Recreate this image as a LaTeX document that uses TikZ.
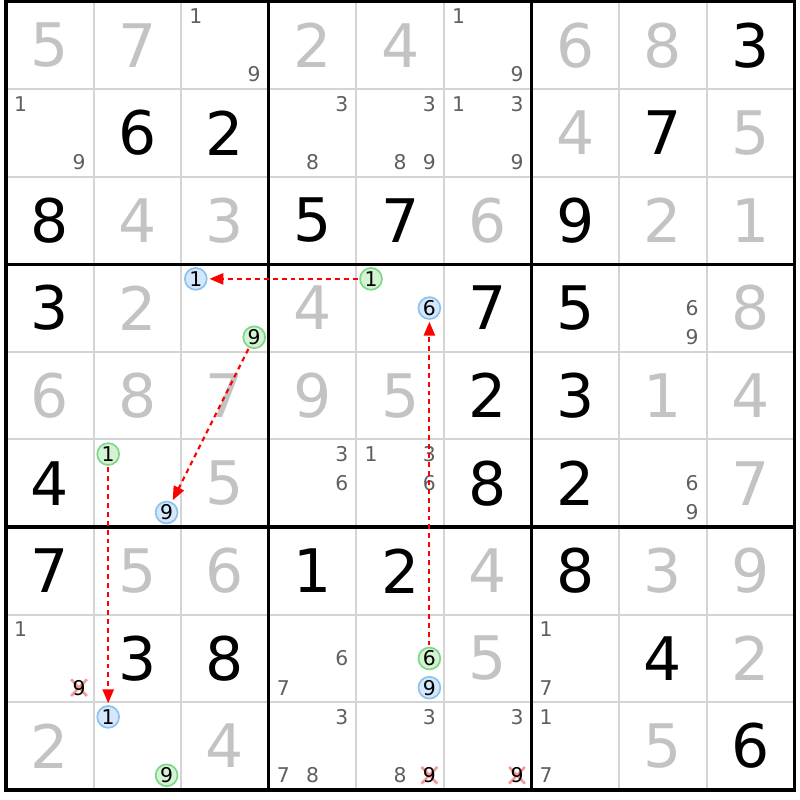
\documentclass[tikz,border=0pt]{standalone}
\usepackage{fontspec}
\setmainfont{DejaVu Sans}
\usetikzlibrary{arrows.meta}
\definecolor{givengray}{HTML}{C3C3C3}
\definecolor{candgray}{HTML}{5F5F5F}
\definecolor{gridgray}{HTML}{D4D4D4}
\definecolor{ongreen}{HTML}{D3F3D3}
\definecolor{ongreenline}{HTML}{7DD68A}
\definecolor{offblue}{HTML}{D5E7FB}
\definecolor{offblueline}{HTML}{8BC2F0}
\definecolor{elimred}{HTML}{F29A9A}
\tikzset{
	givendigit/.style={text=givengray, font=\fontsize{19.5}{19.5}\selectfont, inner sep=0pt},
	solveddigit/.style={givendigit, text=black},
	canddigit/.style={text=candgray, font=\fontsize{6.6}{6.6}\selectfont, inner sep=0pt},
	elimdigit/.style={canddigit, text=black},
	oncand/.style={canddigit, text=black, circle, draw=ongreenline, fill=ongreen, line width=0.55pt, minimum size=0.25cm},
	offcand/.style={oncand, draw=offblueline, fill=offblue},
	elimcross/.style={elimred, line width=0.85pt},
	link/.style={red, line width=0.7pt, dash pattern=on 1.6pt off 1.3pt, -{Triangle[length=4.5pt,width=3.6pt]}, shorten >=0.6pt, shorten <=0.4pt},
}
\def\givencell(#1,#2)#3{\node[givendigit] (r#2c#1) at (#1-0.5, 9.5-#2) {#3};}
\def\solvedcell(#1,#2)#3{\node[solveddigit] (r#2c#1) at (#1-0.5, 9.5-#2) {#3};}
\def\candcell[#1](#2,#3)#4{\node[#1] (r#3c#2n#4) at ({#2-1+(2*mod(#4-1,3)+1)/6}, {10-#3-(2*floor((#4-1)/3)+1)/6}) {#4};}
\def\elimcell(#1,#2)#3{\draw[elimcross] ({#1-1+(2*mod(#3-1,3)+1)/6}, {10-#2-(2*floor((#3-1)/3)+1)/6}) ++(-0.09,-0.095) -- ++(0.18,0.19) ++(-0.18,0) -- ++(0.18,-0.19);
	\candcell[elimdigit](#1,#2){#3}}

\begin{document}
\begin{tikzpicture}
		%%%%% START %%%%%
		\useasboundingbox (-0.0685, -0.115) rectangle (9.064, 9.017);
		
		\draw[gridgray, line width=0.65pt] (1,0) -- (1,9) (2,0) -- (2,9) (4,0) -- (4,9) (5,0) -- (5,9) (7,0) -- (7,9) (8,0) -- (8,9);
		\draw[gridgray, line width=0.65pt] (0,1) -- (9,1) (0,2) -- (9,2) (0,4) -- (9,4) (0,5) -- (9,5) (0,7) -- (9,7) (0,8) -- (9,8);
		\draw[line width=1.1pt] (3,0) -- (3,9) (6,0) -- (6,9) (0,3) -- (9,3) (0,6) -- (9,6);
		\draw[line width=1.1pt] (0,0) rectangle (9,9);
		
		% row 1
		\givencell(1,1){5} \givencell(2,1){7}
		\candcell[canddigit](3,1){1} \candcell[canddigit](3,1){9}
		\givencell(4,1){2} \givencell(5,1){4}
		\candcell[canddigit](6,1){1} \candcell[canddigit](6,1){9}
		\givencell(7,1){6} \givencell(8,1){8} \solvedcell(9,1){3}
		
		% row 2
		\candcell[canddigit](1,2){1} \candcell[canddigit](1,2){9}
		\solvedcell(2,2){6} \solvedcell(3,2){2}
		\candcell[canddigit](4,2){3} \candcell[canddigit](4,2){8}
		\candcell[canddigit](5,2){3} \candcell[canddigit](5,2){8} \candcell[canddigit](5,2){9}
		\candcell[canddigit](6,2){1} \candcell[canddigit](6,2){3} \candcell[canddigit](6,2){9}
		\givencell(7,2){4} \solvedcell(8,2){7} \givencell(9,2){5}
		
		% row 3
		\solvedcell(1,3){8} \givencell(2,3){4} \givencell(3,3){3}
		\solvedcell(4,3){5} \solvedcell(5,3){7} \givencell(6,3){6}
		\solvedcell(7,3){9} \givencell(8,3){2} \givencell(9,3){1}
		
		% row 4
		\solvedcell(1,4){3} \givencell(2,4){2}
		\candcell[offcand](3,4){1} \candcell[oncand](3,4){9}
		\givencell(4,4){4}
		\candcell[oncand](5,4){1} \candcell[offcand](5,4){6}
		\solvedcell(6,4){7} \solvedcell(7,4){5}
		\candcell[canddigit](8,4){6} \candcell[canddigit](8,4){9}
		\givencell(9,4){8}
		
		% row 5
		\givencell(1,5){6} \givencell(2,5){8} \givencell(3,5){7}
		\givencell(4,5){9} \givencell(5,5){5} \solvedcell(6,5){2}
		\solvedcell(7,5){3} \givencell(8,5){1} \givencell(9,5){4}
		
		% row 6
		\solvedcell(1,6){4}
		\candcell[oncand](2,6){1} \candcell[offcand](2,6){9}
		\givencell(3,6){5}
		\candcell[canddigit](4,6){3} \candcell[canddigit](4,6){6}
		\candcell[canddigit](5,6){1} \candcell[canddigit](5,6){3} \candcell[canddigit](5,6){6}
		\solvedcell(6,6){8} \solvedcell(7,6){2}
		\candcell[canddigit](8,6){6} \candcell[canddigit](8,6){9}
		\givencell(9,6){7}
		
		% row 7
		\solvedcell(1,7){7} \givencell(2,7){5} \givencell(3,7){6}
		\solvedcell(4,7){1} \solvedcell(5,7){2} \givencell(6,7){4}
		\solvedcell(7,7){8} \givencell(8,7){3} \givencell(9,7){9}
		
		% row 8
		\candcell[canddigit](1,8){1} \elimcell(1,8){9}
		\solvedcell(2,8){3} \solvedcell(3,8){8}
		\candcell[canddigit](4,8){6} \candcell[canddigit](4,8){7}
		\candcell[oncand](5,8){6} \candcell[offcand](5,8){9}
		\givencell(6,8){5}
		\candcell[canddigit](7,8){1} \candcell[canddigit](7,8){7}
		\solvedcell(8,8){4} \givencell(9,8){2}
		
		% row 9
		\givencell(1,9){2}
		\candcell[offcand](2,9){1} \candcell[oncand](2,9){9}
		\givencell(3,9){4}
		\candcell[canddigit](4,9){3} \candcell[canddigit](4,9){7} \candcell[canddigit](4,9){8}
		\candcell[canddigit](5,9){3} \candcell[canddigit](5,9){8} \elimcell(5,9){9}
		\candcell[canddigit](6,9){3} \elimcell(6,9){9}
		\candcell[canddigit](7,9){1} \candcell[canddigit](7,9){7}
		\givencell(8,9){5} \solvedcell(9,9){6}
		
		% chain
		\draw[link] (r4c5n1) -- (r4c3n1);
		\draw[link] (r4c3n9) -- (r6c2n9);
		\draw[link] (r6c2n1) -- (r9c2n1);
		\draw[link] (r8c5n6) -- (r4c5n6);
		
		%%%%% END %%%%%
	\end{tikzpicture}
\end{document}
